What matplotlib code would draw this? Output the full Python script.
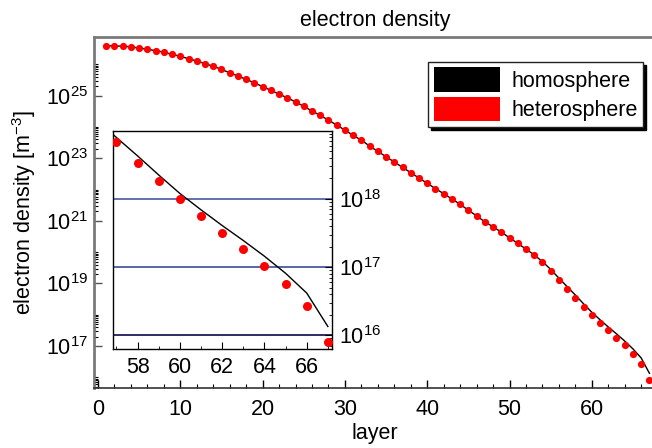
import numpy as np
import matplotlib
matplotlib.use("Agg")
import matplotlib.pyplot as plt
from matplotlib.patches import Patch
from matplotlib.ticker import FixedLocator, LogFormatterSciNotation, NullFormatter

plt.rcParams['font.family'] = ['Liberation Sans', 'DejaVu Sans']
plt.rcParams['mathtext.fontset'] = 'custom'
plt.rcParams['mathtext.rm'] = 'Liberation Sans'
plt.rcParams['mathtext.it'] = 'Liberation Sans'
plt.rcParams['mathtext.default'] = 'regular'

# layer index
layers = np.arange(1, 68)

# log10 of electron density [m^-3], heterosphere model
hetero_log = [
    26.59, 26.59, 26.58, 26.56, 26.52, 26.48, 26.44, 26.39, 26.32, 26.26,
    26.18, 26.11, 26.02, 25.94, 25.84, 25.73, 25.63, 25.52, 25.41, 25.29,
    25.17, 25.05, 24.93, 24.80, 24.66, 24.51, 24.37, 24.22, 24.06, 23.90,
    23.73, 23.58, 23.39, 23.22, 23.05, 22.88, 22.71, 22.54, 22.37, 22.20,
    22.03, 21.87, 21.70, 21.53, 21.34, 21.16, 20.97, 20.81, 20.64, 20.46,
    20.28, 20.09, 19.90, 19.68, 19.41, 19.11, 18.83, 18.53, 18.26, 18.00,
    17.75, 17.50, 17.27, 17.02, 16.75, 16.43, 15.90,
]

# log10 of electron density [m^-3], homosphere model
homo_log = [
    26.59, 26.59, 26.58, 26.56, 26.52, 26.48, 26.44, 26.39, 26.32, 26.26,
    26.18, 26.11, 26.02, 25.94, 25.84, 25.73, 25.63, 25.52, 25.41, 25.29,
    25.17, 25.05, 24.93, 24.80, 24.66, 24.51, 24.37, 24.22, 24.06, 23.90,
    23.73, 23.58, 23.39, 23.22, 23.05, 22.88, 22.71, 22.54, 22.37, 22.20,
    22.03, 21.87, 21.70, 21.53, 21.34, 21.16, 20.97, 20.81, 20.64, 20.46,
    20.28, 20.10, 19.91, 19.70, 19.45, 19.17, 18.90, 18.63, 18.35, 18.08,
    17.84, 17.61, 17.39, 17.16, 16.91, 16.62, 16.13,
]

hetero = 10.0 ** np.array(hetero_log)
homo = 10.0 ** np.array(homo_log)

inset_lines = [1e18, 1e17, 1e16]
inset_line_colors = ['#5565a8', '#4a58a0', '#1c1c55']

FS = 15.5
W, H = 652, 448
fig = plt.figure(figsize=(W / 100, H / 100), dpi=100)

# ---- main panel ----
ax = fig.add_axes([94 / W, 1 - 388 / H, (656 - 94) / W, (388 - 37) / H])
ax.set_yscale('log')
ax.plot(layers, homo, color='black', lw=1.0, zorder=2)
ax.plot(layers, hetero, 'o', color='red', ms=5.2, mec='none', zorder=3)
ax.set_xlim(-0.49, 67.8)
ax.set_ylim(10 ** 15.66, 10 ** 26.875)

ax.xaxis.set_major_locator(FixedLocator([0, 10, 20, 30, 40, 50, 60]))
ax.xaxis.set_minor_locator(FixedLocator(np.arange(0, 68, 2)))
major_y = [10.0 ** n for n in (17, 19, 21, 23, 25)]
minor_y = [k * 10.0 ** n for n in (15, 17, 19, 21, 23, 25) for k in range(2, 11)]
ax.yaxis.set_major_locator(FixedLocator(major_y))
ax.yaxis.set_major_formatter(LogFormatterSciNotation())
ax.yaxis.set_minor_locator(FixedLocator(minor_y))
ax.yaxis.set_minor_formatter(NullFormatter())
ax.tick_params(which='both', direction='in', labelsize=FS, top=False, right=False)
ax.tick_params(which='major', length=6, width=1.0)
ax.tick_params(which='minor', length=3, width=0.8)
ax.tick_params(axis='x', pad=8)
ax.tick_params(axis='y', pad=4)
for s in ('left', 'top'):
    ax.spines[s].set_color('#7a7a7a')
    ax.spines[s].set_linewidth(2.0)
ax.spines['bottom'].set_color('#333333')
ax.spines['bottom'].set_linewidth(1.2)
ax.spines['right'].set_visible(False)
ax.tick_params(axis='y', colors='#555555', labelcolor='black')

ax.set_xlabel('layer', fontsize=FS, labelpad=2)
ax.set_ylabel('electron density [m$^{-3}$]', fontsize=FS, labelpad=6)
ax.set_title('electron density', fontsize=FS, pad=8)

leg = ax.legend(
    handles=[Patch(facecolor='black', edgecolor='none', label='homosphere'),
             Patch(facecolor='red', edgecolor='none', label='heterosphere')],
    loc='upper right', bbox_to_anchor=(643 / W, 1 - 62 / H),
    bbox_transform=fig.transFigure, fontsize=FS, frameon=True,
    fancybox=False, shadow={'color': 'black', 'alpha': 1.0},
    handlelength=3.1, handleheight=1.4, handletextpad=0.5,
    labelspacing=0.2, borderpad=0.25, borderaxespad=0)
leg.get_frame().set_edgecolor('#222222')
leg.get_frame().set_linewidth(1.0)

# ---- inset: top layers ----
axi = fig.add_axes([113.3 / W, 1 - 349 / H, 219 / W, 218.3 / H])
axi.set_yscale('log')
for yv, c in zip(inset_lines, inset_line_colors):
    axi.axhline(yv, color=c, lw=1.3, zorder=1)
axi.plot(layers, homo, color='black', lw=1.0, zorder=2)
axi.plot(layers, hetero, 'o', color='red', ms=6.5, mec='none', zorder=3)
axi.set_xlim(56.85, 67.21)
axi.set_ylim(10 ** 15.8, 10 ** 19.0)
axi.xaxis.set_major_locator(FixedLocator([58, 60, 62, 64, 66]))
axi.xaxis.set_minor_locator(FixedLocator(np.arange(57, 68, 1)))
axi.yaxis.tick_right()
axi.yaxis.set_major_locator(FixedLocator([1e16, 1e17, 1e18]))
axi.yaxis.set_major_formatter(LogFormatterSciNotation())
axi.yaxis.set_minor_locator(FixedLocator([k * 10.0 ** n for n in (15, 16, 17, 18) for k in range(2, 10)]))
axi.yaxis.set_minor_formatter(NullFormatter())
axi.tick_params(which='both', direction='in', labelsize=FS)
axi.tick_params(which='major', length=5, width=0.8)
axi.tick_params(which='minor', length=2.5, width=0.6)
axi.tick_params(axis='x', pad=6)
axi.tick_params(axis='y', pad=5)
for s in axi.spines.values():
    s.set_color('black')
    s.set_linewidth(1.0)

fig.savefig('out.png', dpi=100)
